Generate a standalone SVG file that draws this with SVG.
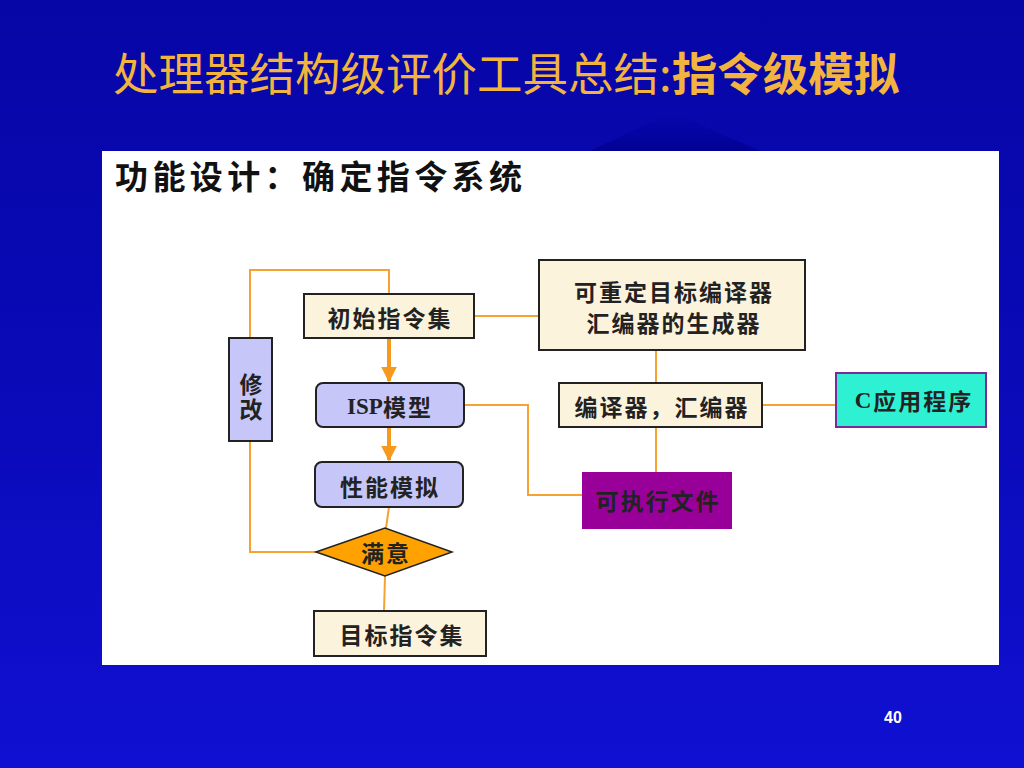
<svg xmlns="http://www.w3.org/2000/svg" width="1024" height="768" viewBox="0 0 1024 768">
<defs>
<linearGradient id="bg" x1="0" y1="0" x2="0" y2="1">
<stop offset="0" stop-color="#0606a6"/>
<stop offset="0.5" stop-color="#0a0ab8"/>
<stop offset="1" stop-color="#1010d2"/>
</linearGradient>
<linearGradient id="peak" x1="0" y1="0" x2="0" y2="1">
<stop offset="0" stop-color="#0000a0" stop-opacity="0"/>
<stop offset="1" stop-color="#00008c" stop-opacity="0.8"/>
</linearGradient>
<marker id="arr" viewBox="0 0 10 10" refX="9" refY="5" markerWidth="4" markerHeight="4" orient="auto">
<path d="M0,0 L10,5 L0,10 z" fill="#f59a1c"/>
</marker>
<style>
.t{font-family:"Noto Sans CJK SC","Liberation Sans",sans-serif;font-weight:bold;text-anchor:middle;dominant-baseline:central;fill:#222;font-size:23px;letter-spacing:2px}
.beige{fill:#fcf3dc;stroke:#222;stroke-width:2}
.lav{fill:#c6c6f8;stroke:#222;stroke-width:2}
.c{fill:none;stroke:#f5a230;stroke-width:2}
.ca{fill:none;stroke:#f59a1c;stroke-width:4}
</style>
</defs>
<rect width="1024" height="768" fill="url(#bg)"/>
<polygon points="590,151 672,112 760,151" fill="url(#peak)"/>
<text x="113" y="91" font-family="Noto Sans CJK SC,sans-serif" font-size="45.5" fill="#f2b43e">处理器结构级评价工具总结:<tspan font-weight="bold">指令级模拟</tspan></text>
<rect x="102" y="151" width="897" height="514" fill="#ffffff"/>
<text x="115" y="175" font-family="Noto Sans CJK SC,sans-serif" font-size="33" font-weight="bold" fill="#111" dominant-baseline="central" letter-spacing="4.4">功能设计：确定指令系统</text>
<g id="connectors">
<polyline class="c" points="389,294 389,270 250,270 250,338"/>
<polyline class="c" points="250,441 250,552 316,552"/>
<line class="ca" x1="389" y1="338" x2="389" y2="381" marker-end="url(#arr)"/>
<line class="ca" x1="389" y1="427" x2="389" y2="460" marker-end="url(#arr)"/>
<line class="c" x1="389" y1="507" x2="386" y2="528"/>
<line class="c" x1="385" y1="576" x2="384" y2="611"/>
<line class="c" x1="474" y1="316" x2="539" y2="316"/>
<line class="c" x1="656" y1="350" x2="656" y2="383"/>
<line class="c" x1="656" y1="427" x2="656" y2="472"/>
<line class="c" x1="762" y1="405" x2="836" y2="405"/>
<polyline class="c" points="464,405 528,405 528,495 582,495"/>
</g>
<g id="n-init"><rect class="beige" x="304" y="294" width="170" height="44"/><text class="t" x="390" y="317">初始指令集</text></g>
<g id="n-modify"><rect class="lav" x="229" y="338" width="43" height="103"/><text class="t" x="251" y="398" writing-mode="tb" font-size="21" fill="#444" font-weight="normal" letter-spacing="8">修改</text></g>
<g id="n-isp"><rect class="lav" x="316" y="383" width="148" height="44" rx="7"/><text class="t" x="390" y="406" letter-spacing="1"><tspan font-family="Liberation Serif,serif" letter-spacing="0">ISP</tspan>模型</text></g>
<g id="n-perf"><rect class="lav" x="315" y="462" width="148" height="45" rx="7"/><text class="t" x="390" y="486">性能模拟</text></g>
<g id="n-ok"><polygon points="316,552 385,528 452,552 385,576" fill="#ffa200" stroke="#222" stroke-width="1.5"/><text class="t" x="386" y="552" font-size="21" fill="#5a3a00" font-weight="normal" letter-spacing="1">满意</text></g>
<g id="n-target"><rect class="beige" x="314" y="611" width="172" height="45"/><text class="t" x="402" y="634">目标指令集</text></g>
<g id="n-gen"><rect class="beige" x="539" y="260" width="266" height="90"/><text class="t" x="674" y="291" font-size="21" letter-spacing="3">可重定目标编译器</text><text class="t" x="674" y="322" font-size="21" letter-spacing="3">汇编器的生成器</text></g>
<g id="n-comp"><rect class="beige" x="559" y="383" width="203" height="44"/><text class="t" x="662" y="406">编译器，汇编器</text></g>
<g id="n-exe"><rect x="582" y="472" width="150" height="57" fill="#990099"/><text class="t" x="658" y="500" font-size="20" fill="#ffffff" letter-spacing="2">可执行文件</text></g>
<g id="n-capp"><rect x="836" y="373" width="150" height="54" fill="#2ef0d2" stroke="#7a2a9a" stroke-width="2"/><text class="t" x="914" y="400" font-size="22" letter-spacing="0"><tspan font-family="Liberation Serif,serif">C</tspan>应用程序</text></g>
<text x="893" y="723" font-family="Liberation Sans,sans-serif" font-size="16" font-weight="bold" fill="#ffffff" text-anchor="middle">40</text>
</svg>
